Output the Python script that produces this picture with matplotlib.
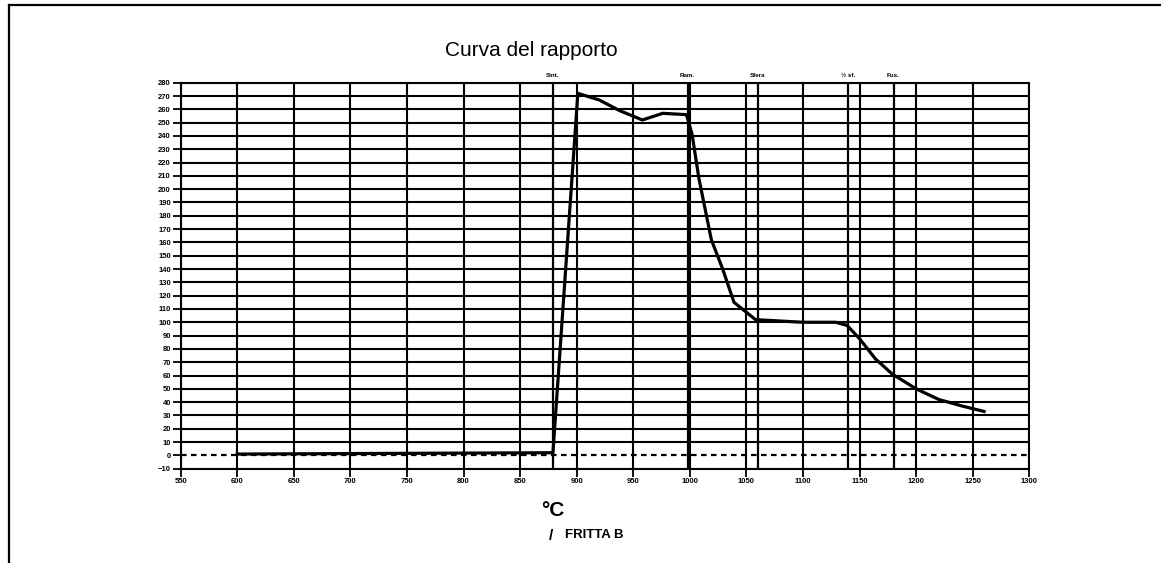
import matplotlib
matplotlib.use("Agg")
import matplotlib.pyplot as plt
from matplotlib.lines import Line2D

# ---- data ----
temps = [600, 879, 901, 920, 938, 958, 976, 997, 1002, 1008, 1019, 1029, 1039,
         1058, 1079, 1100, 1129, 1139, 1150, 1164, 1179, 1200, 1220, 1241, 1260]
ratio = [1, 2, 272, 267, 259, 252, 257, 256, 241, 208, 162, 140, 115,
         102, 101, 100, 100, 97.6, 87.6, 72.5, 61, 50, 42, 37, 33]
marker_temps = [879, 998, 1060, 1140, 1180]
marker_labels = ["Sint.", "Ram.", "Sfera", "½ sf.", "Fus."]
x_ticks = list(range(550, 1301, 50))
y_ticks = list(range(-10, 281, 10))
title = "Curva del rapporto"
x_label = "°C"
series_name = "FRITTA B"

plt.rcParams['font.family'] = ['Liberation Sans', 'DejaVu Sans']

fig = plt.figure(figsize=(11.61, 5.63), dpi=100)
ax = fig.add_axes([0.1556, 0.1675, 0.731, 0.6856])

ax.set_xlim(550, 1300)
ax.set_ylim(-10, 280)

# grid
for xv in x_ticks:
    ax.axvline(xv, color='black', lw=1.5, zorder=1)
for yv in y_ticks:
    if yv == 0:
        continue
    ax.axhline(yv, color='black', lw=1.5, zorder=1)

# zero dashed line
ax.axhline(0, color='black', lw=1.6, ls=(0, (2.5, 2)), zorder=2)

# marker lines
for mx, ml in zip(marker_temps, marker_labels):
    ax.axvline(mx, color='black', lw=1.6, zorder=2)
    ax.text(mx, 1.012, ml, transform=ax.get_xaxis_transform(), ha='center',
            va='bottom', fontsize=4.5, fontweight='bold')

# curve
ax.plot(temps, ratio, color='black', lw=2.3, zorder=3, solid_joinstyle='round')

ax.set_xticks(x_ticks)
ax.set_yticks(y_ticks)
ax.tick_params(axis='both', length=6, width=1.3, direction='out', labelsize=5.5, pad=1)
for lab in ax.get_xticklabels() + ax.get_yticklabels():
    lab.set_fontweight('bold')
for s in ax.spines.values():
    s.set_linewidth(1.5)

fig.text(531.5 / 1161, 1 - 51 / 563, title, ha='center', va='center', fontsize=15)
fig.text(553 / 1161, 1 - 510.5 / 563, x_label, ha='center', va='center',
         fontsize=15, fontweight='bold')
fig.text(551 / 1161, 1 - 535.5 / 563, "/", ha='center', va='center',
         fontsize=11, fontweight='bold')
fig.text(565 / 1161, 1 - 535.5 / 563, series_name, ha='left', va='center',
         fontsize=9.5, fontweight='bold')

# page border (scan frame)
fig.add_artist(Line2D([8.5 / 1161, 1.0], [1 - 5 / 563, 1 - 5 / 563], color='black',
                      lw=1.6, transform=fig.transFigure))
fig.add_artist(Line2D([8.5 / 1161, 8.5 / 1161], [0, 1 - 5 / 563], color='black',
                      lw=1.6, transform=fig.transFigure))

fig.savefig("out.png", dpi=100)
